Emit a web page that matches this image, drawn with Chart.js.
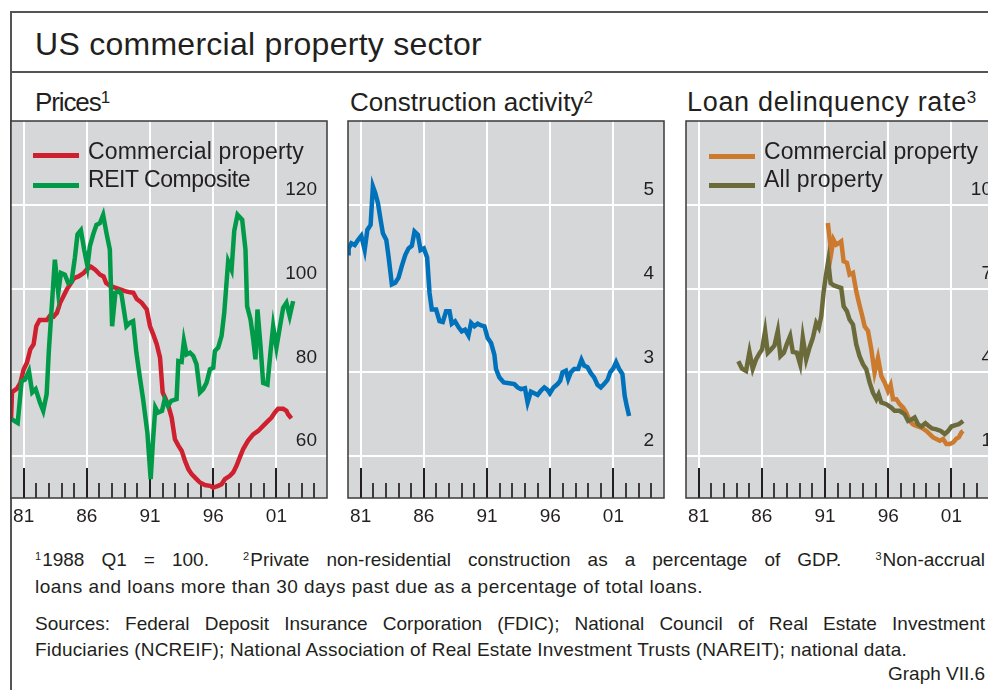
<!DOCTYPE html>
<html><head><meta charset="utf-8">
<script src="https://cdn.jsdelivr.net/npm/chart.js@4.4.1/dist/chart.umd.min.js"></script>
<style>
html,body{margin:0;padding:0;background:#fff;overflow:hidden;}
#page{position:relative;width:988px;height:690px;overflow:hidden;font-family:"Liberation Sans",Arial,sans-serif;color:#231f20;}
.t{position:absolute;white-space:nowrap;line-height:1;}
.line{position:absolute;background:#555;}
canvas{position:absolute;}
.bar{position:absolute;height:5px;width:46px;}
.ps{font-size:17px;position:relative;top:-8px;}
.fs{font-size:11px;position:relative;top:-6px;margin-right:1px;}
</style>
</head><body>
<div id="page">
  <div class="line" style="left:10px;top:11px;width:2px;height:679px;"></div>
  <div class="line" style="left:10px;top:11px;width:978px;height:2px;"></div>
  <div class="line" style="left:10px;top:71px;width:978px;height:2px;"></div>

  <div class="t" data-w="447" style="left:35px;top:28px;font-size:32px;">US commercial property sector</div>
  <div class="t" data-w="74" style="left:35px;top:89px;font-size:26px;">Prices<span class="ps">1</span></div>
  <div class="t" data-w="243" style="left:350px;top:89px;font-size:26px;">Construction activity<span class="ps">2</span></div>
  <div class="t" data-w="290" style="left:687px;top:88.5px;font-size:27px;">Loan delinquency rate<span class="ps">3</span></div>

  <canvas id="c1" width="318" height="421" style="left:10px;top:120px;"></canvas>
  <canvas id="c2" width="318" height="421" style="left:347px;top:120px;"></canvas>
  <canvas id="c3" width="318" height="421" style="left:685px;top:120px;"></canvas>

  <div class="bar" style="left:33px;top:153px;background:#ce202e;"></div>
  <div class="t" data-w="216" style="left:88px;top:140px;font-size:23px;">Commercial property</div>
  <div class="bar" style="left:33px;top:182.5px;background:#009a48;"></div>
  <div class="t" data-w="162" style="left:88px;top:167.5px;font-size:23px;">REIT Composite</div>

  <div class="bar" style="left:709px;top:153.5px;background:#cc7a2e;"></div>
  <div class="t" data-w="214" style="left:764px;top:140px;font-size:23px;">Commercial property</div>
  <div class="bar" style="left:709px;top:183px;background:#6b6a3a;"></div>
  <div class="t" data-w="119" style="left:764px;top:168px;font-size:23px;">All property</div>

  <div class="t" data-jw="950" style="left:35px;top:549.9px;font-size:19px;"><span class="fs">1</span>1988 Q1 = 100.&nbsp; <span class="fs">2</span>Private non-residential construction as a percentage of GDP.&nbsp; <span class="fs">3</span>Non-accrual</div>
  <div class="t" data-w="668" style="left:35px;top:576.9px;font-size:19px;">loans and loans more than 30 days past due as a percentage of total loans.</div>
  <div class="t" data-jw="950" style="left:35px;top:613.9px;font-size:19px;">Sources: Federal Deposit Insurance Corporation (FDIC); National Council of Real Estate Investment</div>
  <div class="t" data-w="872" style="left:35px;top:639.9px;font-size:19px;">Fiduciaries (NCREIF); National Association of Real Estate Investment Trusts (NAREIT); national data.</div>
  <div class="t" id="gr" data-w="97" style="left:886px;top:663.9px;font-size:19px;">Graph VII.6</div>
</div>
<script>
// ---- data (decimal year, value) ----
const commercialPrices = [[1980.0,68.5],[1980.08,75.3],[1980.47,76.1],[1980.74,77.5],[1981.0,80.7],[1981.26,82.3],[1981.53,85.5],[1981.79,86.7],[1982.0,91.0],[1982.26,92.5],[1982.58,92.5],[1982.84,92.5],[1983.1,93.6],[1983.37,93.3],[1983.63,94.2],[1983.89,96.6],[1984.16,98.2],[1984.42,99.8],[1984.68,101.0],[1985.0,102.5],[1985.34,102.9],[1985.74,103.7],[1986.05,104.7],[1986.32,105.2],[1986.66,104.5],[1987.05,103.3],[1987.32,102.9],[1987.53,101.3],[1987.84,100.7],[1988.24,100.2],[1988.63,99.8],[1989.03,99.4],[1989.42,99.1],[1989.68,99.0],[1989.95,97.5],[1990.34,96.6],[1990.74,95.0],[1991.0,91.0],[1991.26,89.0],[1991.53,86.7],[1991.79,83.5],[1992.0,75.2],[1992.18,74.0],[1992.45,72.0],[1992.71,69.2],[1992.97,64.0],[1993.24,62.5],[1993.5,61.3],[1993.76,58.9],[1994.03,56.9],[1994.29,55.7],[1994.68,54.5],[1994.95,53.7],[1995.34,53.1],[1995.74,52.9],[1996.0,52.5],[1996.39,52.9],[1996.66,53.3],[1996.92,54.5],[1997.32,55.3],[1997.58,56.1],[1997.84,57.7],[1998.1,59.7],[1998.37,61.7],[1998.76,63.7],[1999.16,65.2],[1999.55,66.0],[1999.95,67.2],[2000.34,68.4],[2000.61,69.2],[2000.87,70.4],[2001.13,71.3],[2001.53,71.3],[2001.79,70.8],[2001.92,70.0],[2002.18,69.0]];
const reitComposite = [[1980.05,68.8],[1980.53,67.9],[1980.84,77.9],[1981.11,78.3],[1981.42,80.3],[1981.68,75.2],[1981.95,76.0],[1982.29,72.8],[1982.55,70.8],[1982.82,74.8],[1983.0,85.5],[1983.21,95.0],[1983.47,106.9],[1983.74,99.0],[1983.95,103.7],[1984.26,103.3],[1984.53,101.3],[1984.79,101.7],[1985.05,107.3],[1985.26,112.9],[1985.53,113.9],[1985.79,109.3],[1986.05,105.3],[1986.24,110.1],[1986.5,112.9],[1986.76,115.2],[1987.03,115.6],[1987.29,117.6],[1987.55,113.3],[1987.82,109.3],[1988.0,91.0],[1988.26,99.0],[1988.53,99.4],[1988.74,98.6],[1989.13,91.0],[1989.39,91.8],[1989.66,92.2],[1989.92,84.7],[1990.18,79.1],[1990.45,73.6],[1990.79,65.6],[1991.05,54.5],[1991.24,64.0],[1991.42,71.6],[1991.63,70.4],[1991.95,70.8],[1992.16,73.6],[1992.42,72.0],[1992.68,73.2],[1993.1,73.6],[1993.24,82.7],[1993.5,82.5],[1993.68,87.5],[1993.89,84.3],[1994.16,84.7],[1994.42,83.9],[1994.68,81.9],[1994.95,75.2],[1995.21,76.0],[1995.47,77.5],[1995.74,80.7],[1996.0,81.1],[1996.13,85.1],[1996.39,85.9],[1996.66,88.7],[1996.87,94.2],[1997.18,106.5],[1997.45,104.5],[1997.66,113.7],[1997.92,117.6],[1998.29,116.4],[1998.55,109.3],[1998.68,95.8],[1998.95,92.6],[1999.16,87.9],[1999.34,83.1],[1999.5,95.0],[1999.74,86.3],[1999.95,77.5],[2000.29,77.1],[2000.55,85.5],[2000.74,91.0],[2001.0,85.9],[2001.26,90.6],[2001.53,95.4],[2001.79,96.6],[2002.05,93.4],[2002.32,97.0]];
const constructionShare = [[1980.0,4.42],[1980.05,4.48],[1980.26,4.54],[1980.53,4.52],[1980.79,4.58],[1981.05,4.63],[1981.32,4.46],[1981.53,4.70],[1981.79,4.76],[1981.97,5.22],[1982.16,5.14],[1982.37,5.02],[1982.58,4.82],[1982.76,4.66],[1983.03,4.58],[1983.21,4.38],[1983.47,4.05],[1983.74,4.07],[1984.0,4.13],[1984.26,4.27],[1984.53,4.40],[1984.79,4.48],[1985.05,4.51],[1985.26,4.68],[1985.53,4.64],[1985.74,4.46],[1986.0,4.48],[1986.26,4.37],[1986.45,3.95],[1986.63,3.75],[1986.97,3.75],[1987.24,3.61],[1987.5,3.60],[1987.76,3.73],[1988.03,3.73],[1988.21,3.58],[1988.47,3.61],[1988.74,3.54],[1989.0,3.49],[1989.26,3.51],[1989.53,3.44],[1989.74,3.59],[1990.0,3.55],[1990.26,3.58],[1990.53,3.56],[1990.79,3.55],[1991.05,3.41],[1991.32,3.35],[1991.58,3.21],[1991.71,3.04],[1991.97,2.94],[1992.32,2.88],[1992.76,2.87],[1993.16,2.86],[1993.42,2.82],[1993.68,2.80],[1994.0,2.81],[1994.21,2.64],[1994.47,2.77],[1994.74,2.75],[1995.0,2.73],[1995.26,2.78],[1995.53,2.82],[1995.79,2.79],[1995.97,2.75],[1996.26,2.82],[1996.58,2.86],[1996.79,2.90],[1996.97,3.00],[1997.24,3.02],[1997.42,2.92],[1997.63,3.00],[1997.89,3.04],[1998.21,3.04],[1998.47,3.15],[1998.68,3.08],[1998.95,3.06],[1999.21,2.99],[1999.47,2.94],[1999.74,2.85],[2000.0,2.82],[2000.26,2.86],[2000.53,2.91],[2000.74,3.00],[2001.0,3.05],[2001.21,3.12],[2001.45,3.04],[2001.71,2.98],[2001.89,2.72],[2002.05,2.60],[2002.24,2.48]];
const delinquencyCommercial = [[1991.22,9.35],[1991.36,8.81],[1991.49,8.27],[1991.67,8.75],[1991.88,8.57],[1992.10,8.63],[1992.28,8.69],[1992.47,7.98],[1992.73,7.92],[1992.94,7.50],[1993.21,7.56],[1993.47,6.90],[1993.68,6.49],[1993.95,6.01],[1994.13,5.65],[1994.40,5.48],[1994.66,4.82],[1994.92,3.99],[1995.19,4.52],[1995.45,3.87],[1995.72,3.63],[1995.98,3.33],[1996.19,3.54],[1996.38,3.04],[1996.64,3.04],[1996.90,2.86],[1997.17,2.74],[1997.43,2.56],[1997.70,2.26],[1997.96,2.14],[1998.23,2.08],[1998.62,2.02],[1999.02,1.90],[1999.28,1.79],[1999.55,1.67],[1999.81,1.61],[2000.08,1.55],[2000.34,1.61],[2000.60,1.43],[2000.87,1.43],[2001.13,1.49],[2001.40,1.63],[2001.58,1.67],[2001.79,1.85],[2001.92,1.90]];
const delinquencyAll = [[1984.14,4.40],[1984.43,4.13],[1984.75,4.05],[1985.02,4.73],[1985.28,4.13],[1985.54,4.46],[1985.81,4.68],[1986.02,4.82],[1986.26,5.48],[1986.47,4.70],[1986.73,4.82],[1987.0,4.96],[1987.26,5.48],[1987.47,4.58],[1987.74,4.70],[1987.97,5.0],[1988.24,5.30],[1988.45,4.73],[1988.77,4.70],[1989.03,4.29],[1989.24,5.24],[1989.51,4.46],[1989.77,4.88],[1990.04,5.24],[1990.30,5.77],[1990.51,5.60],[1990.70,6.01],[1990.88,6.85],[1991.04,7.38],[1991.25,7.98],[1991.44,7.20],[1991.70,7.11],[1992.02,7.06],[1992.28,7.02],[1992.47,6.37],[1992.73,6.19],[1992.94,5.89],[1993.21,5.71],[1993.47,5.0],[1993.73,4.58],[1994.0,4.29],[1994.26,4.11],[1994.53,3.63],[1994.79,3.27],[1995.06,3.04],[1995.24,3.21],[1995.45,2.92],[1995.85,2.86],[1996.24,2.74],[1996.51,2.62],[1996.90,2.62],[1997.30,2.50],[1997.57,2.26],[1997.88,2.32],[1998.09,2.38],[1998.36,2.14],[1998.62,2.06],[1998.94,2.18],[1999.20,2.08],[1999.47,1.99],[1999.81,1.96],[2000.16,1.90],[2000.47,1.79],[2000.74,1.90],[2001.0,2.06],[2001.32,2.11],[2001.58,2.14],[2001.92,2.26]];

// ---- axis ticks ----
const xTickYears = [1981, 1986, 1991, 1996, 2001];
const xTickLabels = ['81', '86', '91', '96', '01'];
const yearMarks = [1981,1982,1983,1984,1985,1986,1987,1988,1989,1990,1991,1992,1993,1994,1995,1996,1997,1998,1999,2000,2001,2002,2003,2004];
const priceTicks = [60, 80, 100, 120];
const constructionTicks = [2, 3, 4, 5];
const delinquencyTicks = [1, 4, 7, 10];

const FONT = '"Liberation Sans", Arial, sans-serif';
Chart.defaults.font.family = FONT;

const framePlugin = {
  id: 'frame',
  beforeDraw(chart) {
    const a = chart.chartArea, c = chart.ctx;
    c.save(); c.fillStyle = '#d6d7d9';
    c.fillRect(a.left, a.top, a.right - a.left, a.bottom - a.top);
    c.restore();
  },
  beforeDatasetsDraw(chart) {
    const a = chart.chartArea, c = chart.ctx, xs = chart.scales.x;
    c.save(); c.strokeStyle = '#231f20';
    yearMarks.forEach(y => {
      const major = xTickYears.includes(y);
      const px = Math.round(xs.getPixelForValue(y));
      c.lineWidth = major ? 2 : 1.7;
      c.beginPath(); c.moveTo(px, a.bottom); c.lineTo(px, a.bottom - (major ? 30 : 15)); c.stroke();
    });
    c.restore();
  },
  afterDraw(chart) {
    const a = chart.chartArea, c = chart.ctx;
    c.save(); c.strokeStyle = '#3a3a3a'; c.lineWidth = 1.5;
    c.strokeRect(a.left, a.top, a.right - a.left, a.bottom - a.top);
    c.restore();
  }
};

function makeChart(id, series, yMin, yMax, yTicks) {
  return new Chart(document.getElementById(id), {
    type: 'line',
    data: { datasets: series.map(s => ({
      label: s.label,
      data: s.points.map(p => ({ x: p[0], y: p[1] })),
      borderColor: s.color, borderWidth: 4.5, pointRadius: 0, tension: 0, fill: false,
      borderJoinStyle: 'miter', borderCapStyle: 'butt'
    })) },
    options: {
      responsive: false, animation: false, devicePixelRatio: 1,
      layout: { padding: { left: 1, right: 1, top: 1, bottom: 0 } },
      plugins: { legend: { display: false }, tooltip: { enabled: false } },
      scales: {
        x: {
          type: 'linear', position: 'bottom', min: 1980, max: 2005,
          afterBuildTicks: s => { s.ticks = xTickYears.map(v => ({ value: v })); },
          afterFit: s => { s.height = 43; s.paddingLeft = 0; s.paddingRight = 0; },
          grid: { color: '#ffffff', lineWidth: 2, drawTicks: false },
          border: { display: false },
          ticks: { autoSkip: false, maxRotation: 0, padding: 0, color: '#231f20',
                   font: { size: 19, family: FONT, lineHeight: 1.94 },
                   callback: (v, i) => xTickLabels[i] }
        },
        y: {
          type: 'linear', position: 'right', min: yMin, max: yMax,
          afterBuildTicks: s => { s.ticks = yTicks.map(v => ({ value: v })); },
          afterFit: s => { s.width = 0; s.paddingTop = 0; s.paddingBottom = 0; },
          grid: { color: '#ffffff', lineWidth: 2, drawTicks: false },
          border: { display: false },
          ticks: { mirror: true, padding: -10, labelOffset: -15, color: '#231f20',
                   font: { size: 19, family: FONT },
                   callback: v => String(v) }
        }
      }
    },
    plugins: [framePlugin]
  });
}

makeChart('c1', [
  { label: 'REIT Composite', points: reitComposite, color: '#009a48' },
  { label: 'Commercial property', points: commercialPrices, color: '#ce202e' }
], 50, 140, priceTicks);
makeChart('c2', [
  { label: 'Construction', points: constructionShare, color: '#0071bb' }
], 1.5, 6, constructionTicks);
makeChart('c3', [
  { label: 'All property', points: delinquencyAll, color: '#6b6a3a' },
  { label: 'Commercial property', points: delinquencyCommercial, color: '#cc7a2e' }
], -0.5, 13, delinquencyTicks);

// fit text widths to the reference
function fitText() {
  document.querySelectorAll('[data-w]').forEach(el => {
    const target = +el.dataset.w;
    el.style.letterSpacing = '0px';
    const w = el.getBoundingClientRect().width;
    const n = el.textContent.length;
    el.style.letterSpacing = ((target - w) / n) + 'px';
  });
  document.querySelectorAll('[data-jw]').forEach(el => {
    const target = +el.dataset.jw;
    el.style.wordSpacing = '0px';
    const w = el.getBoundingClientRect().width;
    const n = (el.textContent.match(/[ \u00a0]/g) || []).length;
    el.style.wordSpacing = ((target - w) / n) + 'px';
    const w2 = el.getBoundingClientRect().width;
    if (Math.abs(w2 - target) > 1) {
      const cur = parseFloat(el.style.wordSpacing) || 0;
      el.style.wordSpacing = (cur + (target - w2) / n) + 'px';
    }
  });
  const g = document.getElementById('gr');
  g.style.left = (985 - g.getBoundingClientRect().width) + 'px';
}
fitText();
if (document.fonts && document.fonts.ready) document.fonts.ready.then(fitText);
</script>
</body></html>
